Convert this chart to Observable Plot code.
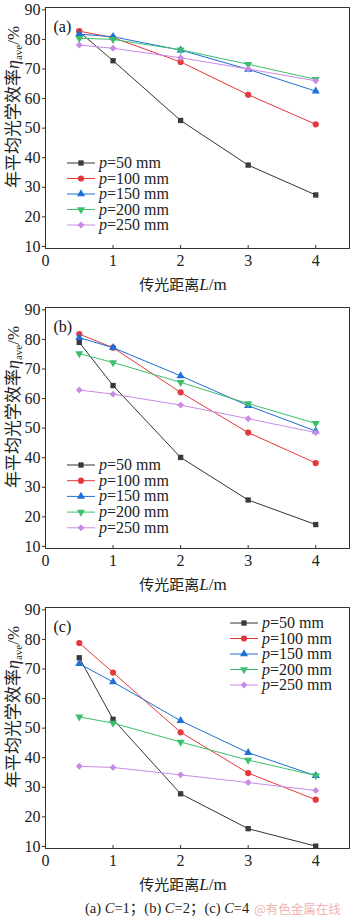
<!DOCTYPE html>
<html><head><meta charset="utf-8">
<script src="https://cdn.jsdelivr.net/npm/d3@7"></script>
<script src="https://cdn.jsdelivr.net/npm/@observablehq/plot@0.6"></script>
<style>
body{margin:0;background:#fff;width:350px;overflow:hidden;}
.panel svg{display:block;}
#caption{position:relative;height:19px;width:350px;font-family:"Liberation Serif","Noto Sans CJK SC",serif;font-size:14.5px;line-height:16px;color:#222;}
#caption .cap{position:absolute;left:85px;top:0px;white-space:nowrap;}
#caption .wm{position:absolute;left:254px;top:1px;font-family:"Noto Sans CJK SC",sans-serif;font-size:12.5px;line-height:15px;color:#f1b3b3;white-space:nowrap;}
</style></head><body>
<div id="charts"></div>
<div id="caption"><span class="cap">(a) <i>C</i>=1；(b) <i>C</i>=2；(c) <i>C</i>=4</span><span class="wm">@有色金属在线</span></div>
<script>
// ---- data ----
const distances = [0.5, 1, 2, 3, 4];
const pitchLabels = ["50", "100", "150", "200", "250"];
const seriesColors = ["#3a3a3a", "#e4383c", "#1e6fd6", "#3cbf6c", "#c98ae6"];
const lineColors = ["#333333", "#e4383c", "#1e6fd6", "#3cbf6c", "#c98ae6"];
const panelLetters = ["(a)", "(b)", "(c)"];
const yTicks = [10, 20, 30, 40, 50, 60, 70, 80, 90];
const xTicks = [0, 1, 2, 3, 4];
// C = 1
const effA = [
  [82.6, 72.8, 52.6, 37.5, 27.4],
  [82.8, 80.6, 72.4, 61.3, 51.3],
  [81.8, 80.9, 76.4, 69.9, 62.5],
  [80.4, 80.0, 76.5, 71.6, 66.5],
  [78.1, 77.0, 73.8, 70.0, 66.0]
];
// C = 2
const effB = [
  [79.0, 64.4, 40.1, 25.7, 17.4],
  [81.8, 77.2, 62.1, 48.5, 38.2],
  [80.6, 77.2, 67.7, 57.6, 49.0],
  [75.2, 72.2, 65.5, 58.3, 51.6],
  [62.9, 61.5, 57.8, 53.2, 48.5]
];
// C = 4
const effC = [
  [73.8, 53.0, 27.8, 16.0, 10.1],
  [78.8, 68.8, 48.6, 34.8, 25.8],
  [71.8, 65.6, 52.5, 41.7, 33.9],
  [53.8, 51.7, 45.3, 39.2, 34.0],
  [37.1, 36.7, 34.2, 31.6, 28.9]
];
const panels = [effA, effB, effC];

// ---- symbols ----
const triangleDown = {
  draw(ctx, size) {
    const y = -Math.sqrt(size / (Math.sqrt(3) * 3));
    ctx.moveTo(0, -2 * y);
    ctx.lineTo(-Math.sqrt(3) * y, y);
    ctx.lineTo(Math.sqrt(3) * y, y);
    ctx.closePath();
  }
};
const symbols = [d3.symbolSquare, d3.symbolCircle, d3.symbolTriangle, triangleDown, d3.symbolDiamond2];
const symbolR = [3.0, 3.1, 3.0, 3.0, 3.1];

const serif = "'Liberation Serif', 'Times New Roman', serif";
const W = 350, H = 300, mT = 7, mB = 52, mL = 45, mR = 1;
const legendPos = [
  {x0: 67, y0: 163, dy: 15.5},
  {x0: 67, y0: 165, dy: 15.7},
  {x0: 230, y0: 23, dy: 15.5}
];

panels.forEach((eff, pi) => {
  const marks = [];
  eff.forEach((vals, si) => {
    const rows = distances.map((x, k) => ({x, y: vals[k]}));
    marks.push(Plot.line(rows, {x: "x", y: "y", stroke: lineColors[si], strokeWidth: 1}));
    marks.push(Plot.dot(rows, {x: "x", y: "y", symbol: symbols[si], r: symbolR[si], fill: seriesColors[si], stroke: "none"}));
  });
  const chart = Plot.plot({
    width: W, height: H,
    marginTop: mT, marginBottom: mB, marginLeft: mL, marginRight: mR,
    style: {fontFamily: serif, fontSize: "16px", color: "#222", background: "#fff"},
    x: {domain: [0, 4.5]},
    y: {domain: [9.3, 90.8]},
    marks: [
      Plot.axisY({ticks: yTicks, tickSize: 3, tickPadding: 2, tickFormat: d3.format("d"), label: null, fontSize: 16, stroke: "#333"}),
      Plot.axisX({ticks: xTicks, tickSize: -3, tickPadding: 9, tickFormat: d3.format("d"), label: null, fontSize: 16, stroke: "#333"}),
      ...marks,
      Plot.frame({stroke: "#333", strokeWidth: 1}),
      Plot.text([panelLetters[pi]], {text: d => d, frameAnchor: "top-left", dx: 8, dy: 13, fontSize: 16, textAnchor: "start", fill: "#111"})
    ]
  });
  const svg = d3.select(chart);
  // y label
  const yl = svg.append("text")
    .attr("transform", `translate(19,107) rotate(-90)`)
    .attr("text-anchor", "middle")
    .attr("font-family", "'Noto Sans CJK SC', sans-serif")
    .attr("font-size", 17)
    .attr("fill", "#222");
  yl.append("tspan").text("年平均光学效率");
  yl.append("tspan").attr("font-family", serif).attr("font-style", "italic").attr("font-size", 18).text("η");
  yl.append("tspan").attr("font-family", serif).attr("font-size", 11).attr("dy", 3).text("ave");
  yl.append("tspan").attr("font-family", serif).attr("font-size", 17).attr("dy", -3).text("/%");
  // x label
  const xl = svg.append("text")
    .attr("x", 183).attr("y", 290)
    .attr("text-anchor", "middle")
    .attr("font-family", "'Noto Sans CJK SC', sans-serif")
    .attr("font-size", 15)
    .attr("fill", "#222");
  xl.append("tspan").text("传光距离");
  xl.append("tspan").attr("font-family", serif).attr("font-style", "italic").attr("font-size", 17).text("L");
  xl.append("tspan").attr("font-family", serif).attr("font-size", 17).text("/m");
  // legend
  const lp = legendPos[pi];
  pitchLabels.forEach((lab, si) => {
    const y = lp.y0 + si * lp.dy;
    const g = svg.append("g");
    g.append("line").attr("x1", lp.x0).attr("x2", lp.x0 + 28).attr("y1", y).attr("y2", y)
      .attr("stroke", lineColors[si]).attr("stroke-width", 1);
    g.append("path").attr("transform", `translate(${lp.x0 + 14},${y})`)
      .attr("d", d3.symbol(symbols[si], Math.PI * symbolR[si] * symbolR[si])())
      .attr("fill", seriesColors[si]);
    const t = g.append("text").attr("x", lp.x0 + 32).attr("y", y + 5)
      .attr("text-anchor", "start")
      .attr("font-family", serif).attr("font-size", 16).attr("fill", "#222");
    t.append("tspan").attr("font-style", "italic").text("p");
    t.append("tspan").text("=" + lab + " mm");
  });
  const div = document.createElement("div");
  div.className = "panel";
  div.appendChild(chart);
  document.getElementById("charts").appendChild(div);
});
</script>
</body></html>
